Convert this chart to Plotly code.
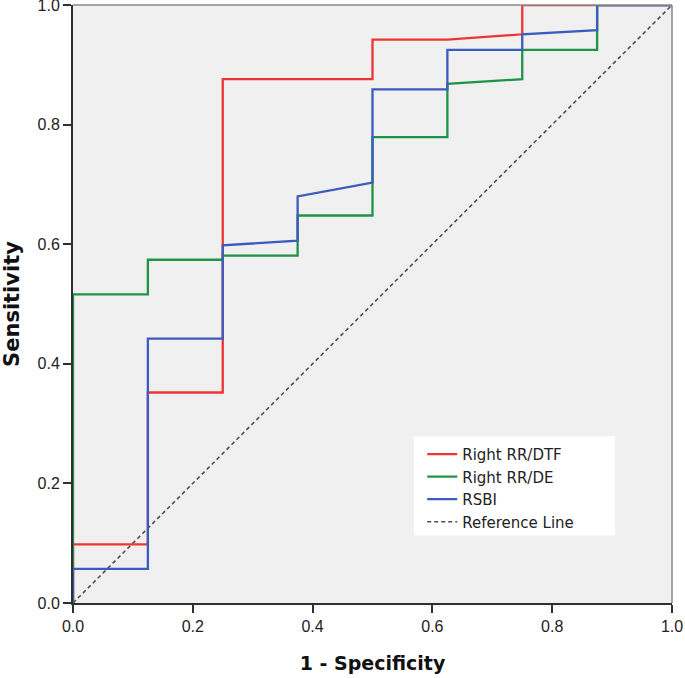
import plotly.graph_objects as go

# ROC curve points (1 - specificity, sensitivity)
dtf_x = [0.0, 0.0, 0.125, 0.125, 0.25, 0.25, 0.5, 0.5, 0.625, 0.75, 0.75, 1.0]
dtf_y = [0.0, 0.098, 0.098, 0.352, 0.352, 0.876, 0.876, 0.942, 0.942, 0.951, 1.0, 1.0]

de_x = [0.0, 0.0, 0.125, 0.125, 0.25, 0.25, 0.375, 0.375, 0.5, 0.5, 0.625, 0.625, 0.75, 0.75, 0.875, 0.875, 1.0]
de_y = [0.0, 0.516, 0.516, 0.574, 0.574, 0.581, 0.581, 0.648, 0.648, 0.779, 0.779, 0.868, 0.876, 0.925, 0.925, 1.0, 1.0]

rsbi_x = [0.0, 0.0, 0.125, 0.125, 0.25, 0.25, 0.375, 0.375, 0.5, 0.5, 0.625, 0.625, 0.75, 0.75, 0.875, 0.875, 1.0]
rsbi_y = [0.0, 0.057, 0.057, 0.442, 0.442, 0.598, 0.606, 0.680, 0.703, 0.859, 0.859, 0.925, 0.925, 0.951, 0.958, 1.0, 1.0]

ref_x = [0.0, 1.0]
ref_y = [0.0, 1.0]

tick_vals = [0.0, 0.2, 0.4, 0.6, 0.8, 1.0]
tick_text = ["0.0", "0.2", "0.4", "0.6", "0.8", "1.0"]

fig = go.Figure()

# reference diagonal first so the curves sit on top
fig.add_trace(go.Scatter(x=ref_x, y=ref_y, mode="lines", name="Reference Line",
                         line=dict(color="#505050", width=1.6, dash="4px,3px")))
fig.add_trace(go.Scatter(x=dtf_x, y=dtf_y, mode="lines", name="Right RR/DTF",
                         line=dict(color="#f03434", width=2.3)))
fig.add_trace(go.Scatter(x=de_x, y=de_y, mode="lines", name="Right RR/DE",
                         line=dict(color="#1f9448", width=2.3)))
fig.add_trace(go.Scatter(x=rsbi_x, y=rsbi_y, mode="lines", name="RSBI",
                         line=dict(color="#3b5bbd", width=2.3)))

# top / right frame in light gray
fig.add_shape(type="line", xref="paper", yref="paper", x0=0, y0=1, x1=1, y1=1,
              line=dict(color="#8a8a8a", width=1.5))
fig.add_shape(type="line", xref="paper", yref="paper", x0=1, y0=0, x1=1, y1=1,
              line=dict(color="#8a8a8a", width=1.5))
# white legend panel (wider than plotly's own legend box)
fig.add_shape(type="rect", xref="paper", yref="paper", x0=0.569, x1=0.905, y0=0.113, y1=0.279,
              fillcolor="white", line=dict(width=0), layer="above")

sans = "Liberation Sans, Arial, sans-serif"
wide = "DejaVu Sans, Verdana, sans-serif"

fig.update_layout(
    width=685, height=678,
    margin=dict(l=73, r=13, t=5, b=75),
    paper_bgcolor="white",
    plot_bgcolor="#f0f0f0",
    font=dict(family=sans, size=16, color="#222222"),
    xaxis=dict(range=[0, 1], tickvals=tick_vals, ticktext=tick_text,
               showgrid=False, zeroline=False, showline=True, automargin=False,
               ticklabeloverflow="allow",
               linecolor="#303030", linewidth=2, ticks="outside",
               ticklen=8, tickwidth=1.5, tickcolor="#303030",
               tickfont=dict(family=sans, size=16, color="#222222"),
               title=dict(text="<b>1 - Specificity</b>", standoff=22,
                          font=dict(family=wide, size=19, color="#111111"))),
    yaxis=dict(range=[0, 1], tickvals=tick_vals, ticktext=tick_text,
               showgrid=False, zeroline=False, showline=True, automargin=False,
               ticklabeloverflow="allow",
               linecolor="#303030", linewidth=2, ticks="outside",
               ticklen=8, tickwidth=1.5, tickcolor="#303030",
               tickfont=dict(family=sans, size=16, color="#222222"),
               title=dict(text="<b>Sensitivity</b>", standoff=16,
                          font=dict(family=wide, size=21, color="#111111"))),
    legend=dict(x=0.583, y=0.276, xanchor="left", yanchor="top",
                bgcolor="rgba(0,0,0,0)", borderwidth=0, traceorder="normal",
                font=dict(family=wide, size=15, color="#222222"),
                itemwidth=30),
    showlegend=True,
)

# legend order: curves first, reference last
fig.data[0].legendrank = 4
fig.data[1].legendrank = 1
fig.data[2].legendrank = 2
fig.data[3].legendrank = 3

# drop the browser's default page margin so the figure sits at the window corner
fig.write_html("out.html", config={"displayModeBar": False},
               post_script="document.body.style.margin='0';")
